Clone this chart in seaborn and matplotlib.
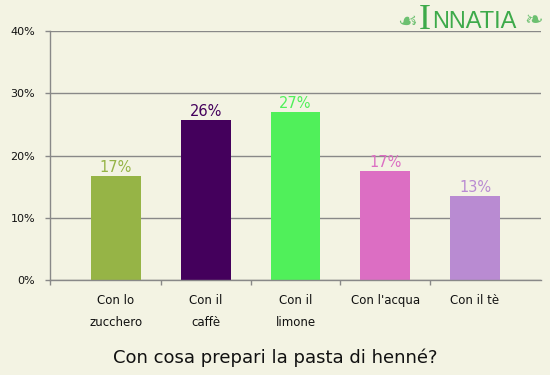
import matplotlib
matplotlib.use("Agg")
import matplotlib.pyplot as plt
import seaborn as sns
import pandas as pd
from matplotlib.ticker import FixedLocator

# ===================== data =====================
categories = ["Con lo\nzucchero", "Con il\ncaffè", "Con il\nlimone", "Con l'acqua", "Con il tè"]
values = [16.7, 25.7, 27.0, 17.5, 13.5]
labels = ["17%", "26%", "27%", "17%", "13%"]
colors = ["#96B446", "#44005C", "#50F05A", "#DC6EC3", "#B98BD2"]
y_ticks = [0, 10, 20, 30, 40]
y_ticklabels = ["0%", "10%", "20%", "30%", "40%"]
title = "Con cosa prepari la pasta di henné?"

df = pd.DataFrame({"cat": categories, "val": values})

BG = "#F3F3E3"
GRID = "#888888"

sns.set_style("white")
plt.rcParams['font.family'] = ['DejaVu Sans']

fig = plt.figure(figsize=(5.5, 3.75), dpi=100, facecolor=BG)
ax = fig.add_axes([50 / 550, 1 - 280 / 375, 491 / 550, 249 / 375])
ax.set_facecolor(BG)

sns.barplot(data=df, x="cat", y="val", hue="cat", palette=colors,
            legend=False, width=0.557, ax=ax, saturation=1,
            edgecolor="none", linewidth=0)

for cont, lab, col in zip(ax.containers, labels, colors):
    ax.bar_label(cont, labels=[lab], color=col, fontsize=10.5, padding=1)

ax.set_xlim(-0.735, 4.735)
ax.set_ylim(0, 40)
ax.set_yticks(y_ticks)
ax.set_yticklabels(y_ticklabels, fontsize=8)
ax.yaxis.grid(True, color=GRID, linewidth=1.0)
ax.set_axisbelow(True)

for s in ["top", "right"]:
    ax.spines[s].set_visible(False)
for s in ["left", "bottom"]:
    ax.spines[s].set_color(GRID)
    ax.spines[s].set_linewidth(1.0)

ax.tick_params(axis="y", left=True, length=3.6, width=1.0, color=GRID, pad=7, labelcolor="#111111")
ax.tick_params(axis="x", which="major", bottom=True, length=0, pad=10, labelsize=8.5, labelcolor="#111111")
for t in ax.get_xticklabels():
    t.set_linespacing(1.9)
    t.set_verticalalignment("top")

# separators between categories
ax.xaxis.set_minor_locator(FixedLocator([-0.735, 0.5, 1.5, 2.5, 3.5]))
ax.tick_params(axis="x", which="minor", bottom=True, length=3.6, width=1.0, color=GRID)

ax.set_xlabel("")
ax.set_ylabel("")

fig.text(0.5, 0.045, title, ha="center", va="center", fontsize=13, color="#111111")

# logo
LOGO = "#3DAA4A"
fig.text(0.722, 0.943, "☙", fontsize=16, color="#6CC070", ha="left", va="center", family="DejaVu Sans")
fig.text(0.762, 0.946, "I", fontsize=26, color=LOGO, ha="left", va="center", family="Liberation Serif")
fig.text(0.785, 0.94, "NNATIA", fontsize=17, color=LOGO, ha="left", va="center", family="Liberation Sans")
fig.text(0.953, 0.943, "❧", fontsize=16, color="#6CC070", ha="left", va="center", family="DejaVu Sans")

plt.savefig("out.png", dpi=100, facecolor=BG)
plt.close()
